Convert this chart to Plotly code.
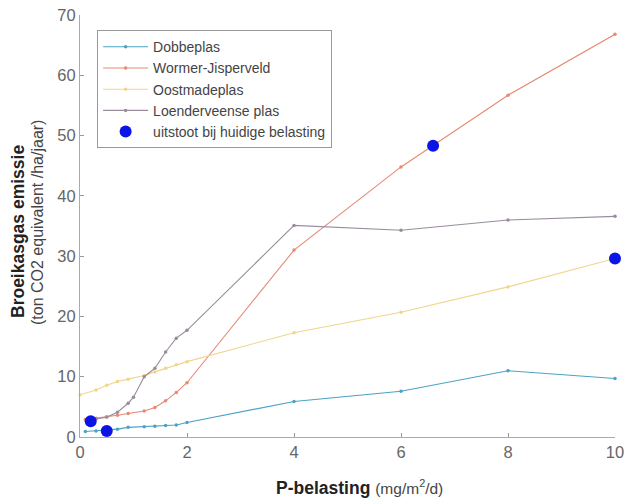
import plotly.graph_objects as go

# Data
dobbe_x = [0.1, 0.3, 0.5, 0.7, 0.9, 1.2, 1.4, 1.6, 1.8, 2.0, 4, 6, 8, 10]
dobbe_y = [0.9, 1.0, 1.1, 1.3, 1.6, 1.7, 1.8, 1.9, 2.0, 2.4, 5.9, 7.6, 11.0, 9.7]

wormer_x = [0.1, 0.3, 0.5, 0.7, 0.9, 1.2, 1.4, 1.6, 1.8, 2.0, 4, 6, 8, 10]
wormer_y = [2.9, 3.1, 3.3, 3.6, 3.9, 4.3, 4.9, 6.0, 7.4, 9.0, 31.0, 44.8, 56.7, 66.8]

oost_x = [0.0, 0.3, 0.5, 0.7, 0.9, 1.2, 1.4, 1.6, 1.8, 2.0, 4, 6, 8, 10]
oost_y = [7.0, 7.8, 8.6, 9.2, 9.6, 10.2, 10.8, 11.4, 12.0, 12.5, 17.3, 20.7, 24.9, 29.6]

loend_x = [0.3, 0.5, 0.7, 0.9, 1.0, 1.2, 1.4, 1.6, 1.8, 2.0, 4, 6, 8, 10]
loend_y = [3.0, 3.3, 4.1, 5.6, 6.6, 10.0, 11.4, 14.1, 16.4, 17.7, 35.1, 34.3, 36.0, 36.6]

huidig_x = [0.2, 0.5, 6.6, 10]
huidig_y = [2.6, 1.0, 48.3, 29.6]

x_ticks = [0, 2, 4, 6, 8, 10]
y_ticks = [0, 10, 20, 30, 40, 50, 60, 70]

fig = go.Figure()

def add_line(x, y, name, color):
    fig.add_trace(go.Scatter(
        x=x, y=y, mode="lines+markers", name=name, cliponaxis=False,
        line=dict(color=color, width=1.1),
        marker=dict(color=color, size=3.5, symbol="circle"),
    ))

add_line(dobbe_x, dobbe_y, "Dobbeplas", "#4aa3c4")
add_line(wormer_x, wormer_y, "Wormer-Jisperveld", "#e68a74")
add_line(oost_x, oost_y, "Oostmadeplas", "#f0d58c")
add_line(loend_x, loend_y, "Loenderveense plas", "#9a8c9e")

fig.add_trace(go.Scatter(
    x=huidig_x, y=huidig_y, mode="markers", name="uitstoot bij huidige belasting",
    cliponaxis=False,
    marker=dict(color="#0a14e6", size=12, symbol="circle"),
))

fig.update_layout(
    width=625, height=498,
    margin=dict(l=80, r=10, t=15, b=61),
    paper_bgcolor="white", plot_bgcolor="white",
    font=dict(family="Liberation Sans, Arial, sans-serif", color="#666666", size=16),
    showlegend=True,
    legend=dict(
        x=0.032, y=0.964, xanchor="left", yanchor="top",
        bordercolor="#999999", borderwidth=1, bgcolor="white",
        font=dict(size=14, color="#444444"),
        itemwidth=45, tracegroupgap=0,
    ),
    xaxis=dict(
        range=[0, 10], tickvals=x_ticks, ticks="inside", ticklen=4,
        tickcolor="#999999", showline=True, linecolor="#aaaaaa", linewidth=1,
        showgrid=False, zeroline=False, mirror=False, automargin=False,
        tickfont=dict(size=16.5, color="#666666"), ticklabeloverflow="allow",
    ),
    yaxis=dict(
        range=[0, 70], tickvals=y_ticks, ticks="inside", ticklen=4,
        tickcolor="#999999", showline=True, linecolor="#aaaaaa", linewidth=1,
        showgrid=False, zeroline=False, mirror=False, automargin=False,
        tickfont=dict(size=16.5, color="#666666"), ticklabeloverflow="allow",
    ),
    annotations=[
        dict(text="<b>Broeikasgas emissie</b>", xref="paper", yref="paper",
             x=0, y=(437 - 232) / 422, xanchor="center", yanchor="middle", xshift=-62,
             textangle=-90, showarrow=False, font=dict(size=17.5, color="#222222")),
        dict(text="(ton CO2 equivalent /ha/jaar)", xref="paper", yref="paper",
             x=0, y=(437 - 223) / 422, xanchor="center", yanchor="middle", xshift=-43,
             textangle=-90, showarrow=False, font=dict(size=16, color="#444444")),
        dict(text="<b>P-belasting</b> <span style='font-size:15.5px;color:#444444'>(mg/m<sup>2</sup>/d)</span>",
             xref="paper", yref="paper",
             x=(359 - 80) / 535, y=0, xanchor="center", yanchor="middle", yshift=-50,
             showarrow=False, font=dict(size=17.5, color="#222222")),
    ],
)

# remove the browser's default 8px body margin so the figure sits at the page corner
fig.write_html(
    "out.html",
    config={"displayModeBar": False},
    post_script="document.body.style.margin='0';document.body.style.overflow='hidden';",
)
